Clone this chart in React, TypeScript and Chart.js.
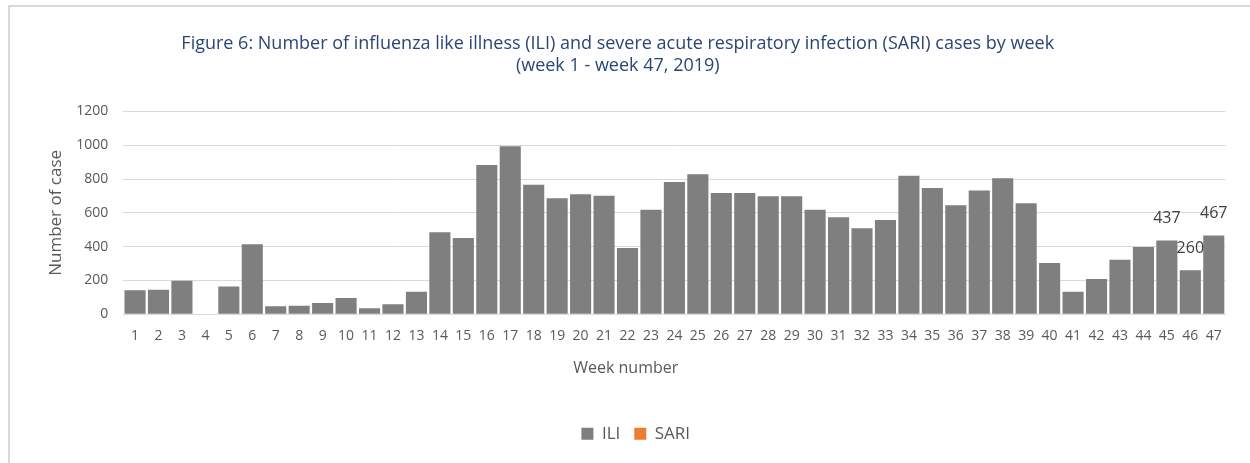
import React, { useEffect, useRef } from "react";
import { Chart, registerables } from "chart.js";

Chart.register(...registerables);

const titleLines = [
  "Figure 6: Number of influenza like illness (ILI) and severe acute respiratory infection (SARI) cases by week",
  "(week 1 - week 47, 2019)",
];
const xAxisTitle = "Week number";
const yAxisTitle = "Number of case";
const weeks = [
  "1", "2", "3", "4", "5", "6", "7", "8", "9", "10", "11", "12", "13", "14", "15", "16",
  "17", "18", "19", "20", "21", "22", "23", "24", "25", "26", "27", "28", "29", "30", "31",
  "32", "33", "34", "35", "36", "37", "38", "39", "40", "41", "42", "43", "44", "45", "46", "47",
];
const iliCases = [
  142, 146, 199, 0, 164, 415, 47, 51, 67, 97, 36, 59, 134, 485, 452, 884,
  994, 767, 686, 710, 702, 392, 619, 783, 828, 718, 718, 698, 698, 619, 574,
  509, 558, 820, 748, 645, 732, 805, 657, 304, 134, 209, 323, 398, 437, 260, 467,
];
const sariCases: number[] = [];
const labeledWeeks = ["45", "46", "47"];
const yTicks = [0, 200, 400, 600, 800, 1000, 1200];

const FONT = "'Open Sans', sans-serif";

export default function App() {
  const ref = useRef<HTMLCanvasElement | null>(null);
  useEffect(() => {
    if (!ref.current) return;
    const borderPlugin = {
      id: "outerBorder",
      beforeDraw(chart: any) {
        const ctx = chart.ctx;
        ctx.save();
        ctx.fillStyle = "#ffffff";
        ctx.fillRect(0, 0, chart.width, chart.height);
        ctx.strokeStyle = "#D9D9D9";
        ctx.lineWidth = 2;
        ctx.strokeRect(9, 6, 1300, 600);
        ctx.restore();
      },
      afterDraw(chart: any) {
        const ctx = chart.ctx;
        const xs = chart.scales.x;
        ctx.save();
        ctx.font = `16px ${FONT}`;
        ctx.fillStyle = "#595959";
        ctx.textAlign = "center";
        ctx.textBaseline = "middle";
        ctx.fillText(xAxisTitle, (chart.legend.left + chart.legend.right) / 2 - 10, xs.top + 54);
        ctx.restore();
      },
    };
    const shiftPlugin = {
      id: "shiftBlocks",
      afterLayout(chart: any) {
        if (chart.legend) {
          chart.legend.left += 23;
          chart.legend.right += 23;
        }
        if (chart.titleBlock) {
          chart.titleBlock.left += 5;
          chart.titleBlock.right += 5;
        }
      },
    };
    const labelPlugin = {
      id: "barLabels",
      afterDatasetsDraw(chart: any) {
        const ctx = chart.ctx;
        const meta = chart.getDatasetMeta(0);
        ctx.save();
        ctx.font = `16px ${FONT}`;
        ctx.fillStyle = "#404040";
        ctx.textAlign = "center";
        ctx.textBaseline = "middle";
        weeks.forEach((w, i) => {
          if (!labeledWeeks.includes(w)) return;
          const el = meta.data[i];
          ctx.fillText(String(iliCases[i]), el.x, el.y - 22);
        });
        ctx.restore();
      },
    };
    const chart = new Chart(ref.current, {
      type: "bar",
      data: {
        labels: weeks,
        datasets: [
          {
            label: "ILI",
            data: iliCases,
            backgroundColor: "#7F7F7F",
            borderWidth: 0,
            grouped: false,
            categoryPercentage: 1,
            barPercentage: 0.9,
          },
          {
            label: "SARI",
            data: sariCases,
            backgroundColor: "#ED7D31",
            borderWidth: 0,
            grouped: false,
            categoryPercentage: 1,
            barPercentage: 0.9,
          },
        ],
      },
      options: {
        responsive: false,
        animation: false,
        devicePixelRatio: 1,
        layout: { padding: { left: 0, right: 24.5, top: 0, bottom: 10.8 } },
        plugins: {
          tooltip: { enabled: false },
          title: {
            display: true,
            text: titleLines,
            color: "#2B4576",
            font: { family: FONT, size: 18, weight: "normal", lineHeight: 22 / 18 },
            padding: { top: 33, bottom: 34.5 },
          },
          legend: {
            display: true,
            position: "bottom",
            labels: {
              color: "#595959",
              font: { family: FONT, size: 17 },
              boxWidth: 12,
              boxHeight: 12,
              padding: 14,
            },
          },
        },
        scales: {
          x: {
            grid: { display: false, drawTicks: false },
            border: { display: true, color: "#D9D9D9", width: 1 },
            ticks: {
              color: "#595959",
              font: { family: FONT, size: 14 },
              padding: 13,
              maxRotation: 0,
              autoSkip: false,
            },
            title: { display: false, text: xAxisTitle },
            afterFit(scale: any) {
              scale.height = 96.9;
            },
          },
          y: {
            min: 0,
            max: 1200,
            afterBuildTicks(scale: any) {
              scale.ticks = yTicks.map((v) => ({ value: v }));
            },
            grid: { color: "#D9D9D9", lineWidth: 1, drawTicks: false },
            border: { display: false },
            ticks: {
              color: "#595959",
              font: { family: FONT, size: 14 },
              padding: 15,
              callback: (v: any) => String(v),
            },
            title: {
              display: true,
              text: yAxisTitle,
              color: "#595959",
              font: { family: FONT, size: 17 },
              padding: { top: 46, bottom: 0 },
            },
            afterFit(scale: any) {
              scale.width = 123.3;
            },
          },
        },
      },
      plugins: [borderPlugin, shiftPlugin, labelPlugin],
    });
    return () => chart.destroy();
  }, []);
  return (
    <div style={{ position: "absolute", left: 0, top: 0, width: 1250, height: 463 }}>
      <canvas ref={ref} width={1250} height={463} />
    </div>
  );
}
